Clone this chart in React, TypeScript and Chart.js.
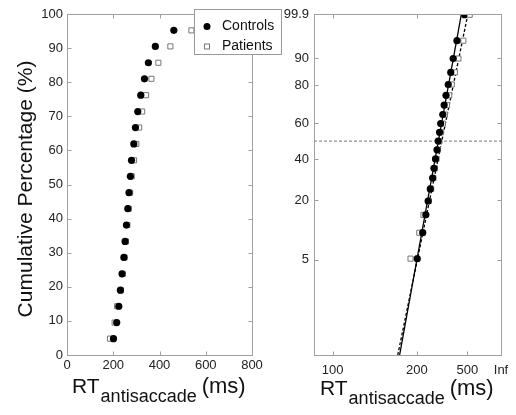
import React, { useEffect, useRef } from 'react';
import { Chart, registerables } from 'chart.js';
Chart.register(...registerables);

// ---------- data ----------
const percentiles = [4.8, 9.5, 14.3, 19.0, 23.8, 28.6, 33.3, 38.1, 42.9, 47.6, 52.4, 57.1, 61.9, 66.7, 71.4, 76.2, 81.0, 85.7, 90.5, 95.2];
const controlsRT = [201, 215, 224, 231, 238, 246, 251, 257, 263, 268, 274, 279, 289, 296, 306, 319, 335, 352, 382, 462];
const patientsRT = [186, 206, 217, 233, 241, 249, 255, 261, 267, 273, 280, 290, 300, 312, 325, 342, 365, 395, 447, 538];

// fitted reciprobit lines: RT at bottom and top of the right panel
const controlsFitRT = [166, 425];
const patientsFitRT = [163, 509];
const medianLinePct = 47.6;

// left panel axes
const leftXTicks = [0, 200, 400, 600, 800];
const leftYTicks = [0, 10, 20, 30, 40, 50, 60, 70, 80, 90, 100];

// right panel axes (x = -1/RT, y = probit units)
const rightXTicks = [100, 200, 500, Infinity];
const rightXTickLabels = ['100', '200', '500', 'Inf'];
const rightXMinRT = 90;
const rightYTickPos = [-1.682, -0.864, -0.304, 0.183, 0.705, 1.07, 1.675];
const rightYTickLabels = ['5', '20', '40', '60', '80', '90', '99.9'];
const rightYMin = -2.98;
const rightYMax = 1.675;

const FONT = '"Liberation Sans", Arial, sans-serif';

function probit(pct: number): number {
  const p = pct / 100;
  const a = [-3.969683028665376e1, 2.209460984245205e2, -2.759285104469687e2, 1.38357751867269e2, -3.066479806614716e1, 2.506628277459239];
  const b = [-5.447609879822406e1, 1.615858368580409e2, -1.556989798598866e2, 6.680131188771972e1, -1.328068155288572e1];
  const c = [-7.784894002430293e-3, -3.223964580411365e-1, -2.400758277161838, -2.549732539343734, 4.374664141464968, 2.938163982698783];
  const d = [7.784695709041462e-3, 3.224671290700398e-1, 2.445134137142996, 3.754408661907416];
  const plow = 0.02425;
  if (p < plow) {
    const q = Math.sqrt(-2 * Math.log(p));
    return (((((c[0] * q + c[1]) * q + c[2]) * q + c[3]) * q + c[4]) * q + c[5]) / ((((d[0] * q + d[1]) * q + d[2]) * q + d[3]) * q + 1);
  }
  if (p > 1 - plow) {
    const q = Math.sqrt(-2 * Math.log(1 - p));
    return -(((((c[0] * q + c[1]) * q + c[2]) * q + c[3]) * q + c[4]) * q + c[5]) / ((((d[0] * q + d[1]) * q + d[2]) * q + d[3]) * q + 1);
  }
  const q = p - 0.5;
  const r = q * q;
  return ((((((a[0] * r + a[1]) * r + a[2]) * r + a[3]) * r + a[4]) * r + a[5]) * q) / (((((b[0] * r + b[1]) * r + b[2]) * r + b[3]) * r + b[4]) * r + 1);
}

const recip = (rt: number) => (rt === Infinity ? 0 : -1 / rt);

function drawRTTitle(ctx: CanvasRenderingContext2D, x: number, baseline: number) {
  ctx.save();
  ctx.fillStyle = '#111';
  ctx.textBaseline = 'alphabetic';
  ctx.textAlign = 'left';
  ctx.font = `21px ${FONT}`;
  ctx.fillText('RT', x, baseline);
  let cx = x + ctx.measureText('RT').width + 1;
  ctx.font = `18px ${FONT}`;
  ctx.fillText('antisaccade', cx, baseline + 9);
  cx += ctx.measureText('antisaccade').width + 5;
  ctx.font = `22px ${FONT}`;
  ctx.fillText('(ms)', cx, baseline);
  ctx.restore();
}

const framePlugin = {
  id: 'frame',
  afterDraw(chart: any, _args: any, opts: any) {
    const { ctx, chartArea, scales } = chart;
    const { left, right, top, bottom } = chartArea;
    ctx.save();
    ctx.strokeStyle = '#a0a0a0';
    ctx.lineWidth = 1;
    const L = Math.round(left) + 0.5, R = Math.round(right) + 0.5, T = Math.round(top) + 0.5, B = Math.round(bottom) + 0.5;
    ctx.strokeRect(L, T, R - L, B - T);
    const tl = 4;
    ctx.beginPath();
    scales.x.ticks.forEach((t: any) => {
      const px = Math.round(scales.x.getPixelForValue(t.value)) + 0.5;
      ctx.moveTo(px, B); ctx.lineTo(px, B - tl);
      ctx.moveTo(px, T); ctx.lineTo(px, T + tl);
    });
    scales.y.ticks.forEach((t: any) => {
      const py = Math.round(scales.y.getPixelForValue(t.value)) + 0.5;
      ctx.moveTo(L, py); ctx.lineTo(L + tl, py);
      ctx.moveTo(R, py); ctx.lineTo(R - tl, py);
    });
    ctx.stroke();
    ctx.restore();
    drawRTTitle(ctx, opts.titleX, opts.titleBaseline);
    if (opts.yTitle) {
      ctx.save();
      ctx.translate(opts.yTitleX, opts.yTitleY);
      ctx.rotate(-Math.PI / 2);
      ctx.font = `21px ${FONT}`;
      ctx.fillStyle = '#111';
      ctx.textAlign = 'center';
      ctx.textBaseline = 'middle';
      ctx.fillText(opts.yTitle, 0, 0);
      ctx.restore();
    }
    if (opts.legend) {
      ctx.save();
      ctx.fillStyle = '#fff';
      ctx.strokeStyle = '#999';
      ctx.fillRect(194.5, 9.5, 87, 45);
      ctx.strokeRect(194.5, 9.5, 87, 45);
      ctx.fillStyle = '#000';
      ctx.beginPath();
      ctx.arc(207, 26.5, 3.5, 0, Math.PI * 2);
      ctx.fill();
      ctx.strokeStyle = '#777';
      ctx.strokeRect(204.5, 44, 5, 5);
      ctx.font = `14px ${FONT}`;
      ctx.fillStyle = '#111';
      ctx.textBaseline = 'middle';
      ctx.fillText('Controls', 222, 26.5);
      ctx.fillText('Patients', 222, 46.5);
      ctx.restore();
    }
  },
};

function fixBox(size: number, dim: 'width' | 'height') {
  return (scale: any) => {
    scale[dim] = size;
    scale.paddingLeft = 0;
    scale.paddingRight = 0;
    scale.paddingTop = 0;
    scale.paddingBottom = 0;
  };
}

const tickFont = { family: FONT, size: 13 };
const tickColor = '#222';

export default function App() {
  const leftRef = useRef<HTMLCanvasElement>(null);
  const rightRef = useRef<HTMLCanvasElement>(null);

  useEffect(() => {
    const left = new Chart(leftRef.current!, {
      type: 'scatter',
      data: {
        datasets: [
          {
            label: 'Controls',
            data: controlsRT.map((rt, i) => ({ x: rt, y: percentiles[i] })),
            pointStyle: 'circle',
            pointRadius: 3.6,
            backgroundColor: '#000',
            borderColor: '#000',
            borderWidth: 0,
          },
          {
            label: 'Patients',
            data: patientsRT.map((rt, i) => ({ x: rt, y: percentiles[i] })),
            pointStyle: 'rect',
            pointRadius: 3.6,
            backgroundColor: '#fff',
            borderColor: '#777',
            borderWidth: 1,
          },
        ],
      },
      options: {
        animation: false,
        responsive: false,
        events: [],
        layout: { padding: { left: 0, top: 14, right: 516 - 252, bottom: 0 } },
        plugins: {
          legend: { display: false },
          tooltip: { enabled: false },
          frame: { titleX: 72, titleBaseline: 393, yTitle: 'Cumulative Percentage (%)', yTitleX: 26, yTitleY: 189, legend: true },
        } as any,
        scales: {
          x: {
            type: 'linear', min: 0, max: 800,
            afterBuildTicks: (s: any) => { s.ticks = leftXTicks.map((v) => ({ value: v })); },
            afterFit: fixBox(415 - 355, 'height'),
            grid: { display: false, drawTicks: false },
            border: { display: false },
            ticks: { font: tickFont, color: tickColor, padding: 3, maxRotation: 0, autoSkip: false },
          },
          y: {
            type: 'linear', min: 0, max: 100,
            afterBuildTicks: (s: any) => { s.ticks = leftYTicks.map((v) => ({ value: v })); },
            afterFit: fixBox(67, 'width'),
            grid: { display: false, drawTicks: false },
            border: { display: false },
            ticks: { font: tickFont, color: tickColor, padding: 4, autoSkip: false },
          },
        },
      },
      plugins: [framePlugin],
    } as any);

    const right = new Chart(rightRef.current!, {
      type: 'scatter',
      data: {
        datasets: [
          {
            label: 'Controls',
            data: controlsRT.map((rt, i) => ({ x: recip(rt), y: probit(percentiles[i]) })),
            pointStyle: 'circle',
            pointRadius: 3.6,
            backgroundColor: '#000',
            borderColor: '#000',
            borderWidth: 0,
          },
          {
            label: 'Patients',
            data: patientsRT.map((rt, i) => ({ x: recip(rt), y: probit(percentiles[i]) })),
            pointStyle: 'rect',
            pointRadius: 3.6,
            backgroundColor: '#fff',
            borderColor: '#777',
            borderWidth: 1,
          },
          {
            type: 'line',
            label: 'Controls fit',
            data: [{ x: recip(controlsFitRT[0]), y: rightYMin }, { x: recip(controlsFitRT[1]), y: rightYMax }],
            borderColor: '#000',
            borderWidth: 1.3,
            pointRadius: 0,
            showLine: true,
          },
          {
            type: 'line',
            label: 'Patients fit',
            data: [{ x: recip(patientsFitRT[0]), y: rightYMin }, { x: recip(patientsFitRT[1]), y: rightYMax }],
            borderColor: '#000',
            borderWidth: 1.3,
            borderDash: [3, 2],
            pointRadius: 0,
            showLine: true,
          },
          {
            type: 'line',
            label: 'Median',
            data: [{ x: recip(rightXMinRT), y: probit(medianLinePct) }, { x: 0, y: probit(medianLinePct) }],
            borderColor: '#777',
            borderWidth: 1,
            borderDash: [3, 2],
            pointRadius: 0,
            showLine: true,
          },
        ],
      },
      options: {
        animation: false,
        responsive: false,
        events: [],
        layout: { padding: { left: 0, top: 14, right: 516 - 501, bottom: 0 } },
        plugins: {
          legend: { display: false },
          tooltip: { enabled: false },
          frame: { titleX: 320, titleBaseline: 395 },
        } as any,
        scales: {
          x: {
            type: 'linear', min: recip(rightXMinRT), max: 0,
            afterBuildTicks: (s: any) => { s.ticks = rightXTicks.map((v) => ({ value: recip(v) })); },
            afterFit: fixBox(415 - 355, 'height'),
            grid: { display: false, drawTicks: false },
            border: { display: false },
            ticks: {
              font: tickFont, color: tickColor, padding: 8, maxRotation: 0, autoSkip: false,
              callback: (_v: any, i: number) => rightXTickLabels[i],
            },
          },
          y: {
            type: 'linear', min: rightYMin, max: rightYMax,
            afterBuildTicks: (s: any) => { s.ticks = rightYTickPos.map((v) => ({ value: v })); },
            afterFit: fixBox(314, 'width'),
            grid: { display: false, drawTicks: false },
            border: { display: false },
            ticks: {
              font: tickFont, color: tickColor, padding: 5, autoSkip: false,
              callback: (_v: any, i: number) => rightYTickLabels[i],
            },
          },
        },
      },
      plugins: [framePlugin],
    } as any);

    return () => {
      left.destroy();
      right.destroy();
    };
  }, []);

  const canvasStyle: React.CSSProperties = { position: 'absolute', left: 0, top: 0, width: 516, height: 415 };
  return (
    <div style={{ position: 'fixed', left: 0, top: 0, width: 516, height: 415, background: '#fff' }}>
      <canvas ref={leftRef} width={516} height={415} style={canvasStyle} />
      <canvas ref={rightRef} width={516} height={415} style={canvasStyle} />
    </div>
  );
}
